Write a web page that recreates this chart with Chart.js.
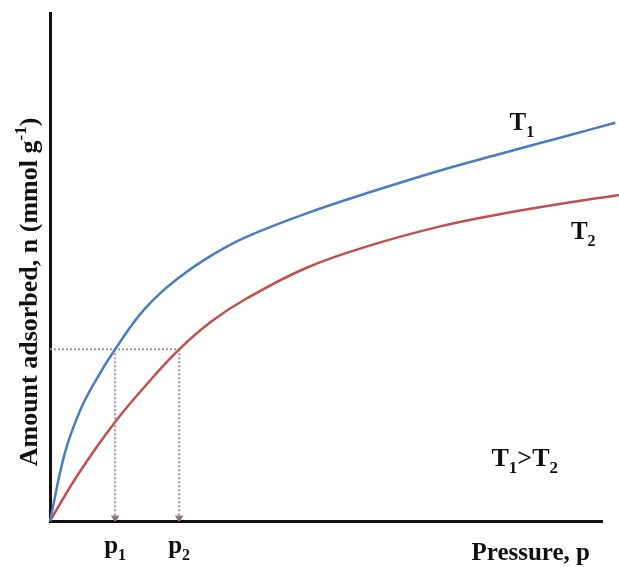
<!DOCTYPE html>
<html>
<head>
<meta charset="utf-8">
<script src="https://cdn.jsdelivr.net/npm/chart.js@4"></script>
<style>
  html, body { margin: 0; padding: 0; background: #fff; }
  #wrap { width: 619px; height: 567px; position: relative; }
</style>
</head>
<body>
<div id="wrap"><canvas id="c"></canvas></div>
<script>
// Pressure (arbitrary units) and amount adsorbed (arbitrary units)
const t1Pressure = [0, 0.27, 0.54, 0.82, 1.18, 1.72, 2.36, 2.99, 3.53, 4.66, 5.85, 7.07, 8.10, 9.29, 10.24];
const t1Amount   = [0, 1.34, 2.16, 2.75, 3.38, 4.18, 4.81, 5.27, 5.58, 6.06, 6.49, 6.90, 7.21, 7.56, 7.84];
const t2Pressure = [0, 0.51, 1.18, 1.85, 2.34, 2.93, 3.53, 4.66, 5.85, 7.07, 8.10, 9.29, 10.31];
const t2Amount   = [0, 0.92, 1.95, 2.81, 3.38, 3.93, 4.36, 4.99, 5.44, 5.80, 6.03, 6.25, 6.42];
const p1 = 1.18, p2 = 2.34, nLevel = 3.38;
const seriesLabels = ['T1', 'T2'];

const pts = (xs, ys) => xs.map((x, i) => ({x, y: ys[i]}));

const guide = (data, rad) => ({
  type: 'line', data, borderColor: '#a39191', borderWidth: 2, borderDash: [2, 2],
  pointRadius: rad, pointStyle: 'triangle', pointRotation: 180,
  pointBackgroundColor: '#8c7a7a', pointBorderColor: '#8c7a7a', tension: 0, order: 2
});

const FONT = '"Liberation Serif", "Times New Roman", serif';

function drawRich(ctx, parts, x, y, size, align) {
  const small = Math.round(size * 0.65);
  let total = 0;
  const widths = parts.map(p => {
    ctx.font = 'bold ' + (p.mode === 'n' ? size : small) + 'px ' + FONT;
    const w = ctx.measureText(p.t).width; total += w; return w;
  });
  let cx = align === 'center' ? x - total / 2 : (align === 'right' ? x - total : x);
  ctx.textAlign = 'left';
  ctx.textBaseline = 'alphabetic';
  parts.forEach((p, i) => {
    ctx.font = 'bold ' + (p.mode === 'n' ? size : small) + 'px ' + FONT;
    let dy = 0;
    if (p.mode === 'sub') dy = size * 0.28;
    if (p.mode === 'sup') dy = -size * 0.42;
    ctx.fillText(p.t, cx, y + dy);
    cx += widths[i];
  });
}

const textPlugin = {
  id: 'texts',
  afterDraw(chart) {
    const ctx = chart.ctx, xs = chart.scales.x, ys = chart.scales.y;
    ctx.save();
    ctx.fillStyle = '#111';
    drawRich(ctx, [{t: 'T', mode: 'n'}, {t: '1', mode: 'sub'}], xs.getPixelForValue(8.55), ys.getPixelForValue(7.7), 25, 'center');
    drawRich(ctx, [{t: 'T', mode: 'n'}, {t: '2', mode: 'sub'}], xs.getPixelForValue(9.66), ys.getPixelForValue(5.55), 25, 'center');
    drawRich(ctx, [{t: 'T', mode: 'n'}, {t: '1', mode: 'sub'}, {t: '>', mode: 'n'}, {t: 'T', mode: 'n'}, {t: '2', mode: 'sub'}],
      xs.getPixelForValue(8.6), ys.getPixelForValue(1.08), 26, 'center');
    const by = chart.chartArea.bottom + 32;
    drawRich(ctx, [{t: 'p', mode: 'n'}, {t: '1', mode: 'sub'}], xs.getPixelForValue(p1), by, 25, 'center');
    drawRich(ctx, [{t: 'p', mode: 'n'}, {t: '2', mode: 'sub'}], xs.getPixelForValue(p2), by, 25, 'center');
    drawRich(ctx, [{t: 'Pressure, p', mode: 'n'}], chart.chartArea.right - 12, chart.chartArea.bottom + 39, 25, 'right');
    ctx.translate(37, 292);
    ctx.rotate(-Math.PI / 2);
    drawRich(ctx, [{t: 'Amount adsorbed, n (mmol g', mode: 'n'}, {t: '-1', mode: 'sup'}, {t: ')', mode: 'n'}], 0, 0, 26, 'center');
    ctx.restore();
  }
};

new Chart(document.getElementById('c'), {
  type: 'line',
  data: {
    datasets: [
      { label: seriesLabels[0], data: pts(t1Pressure, t1Amount), borderColor: '#4a7cc0', borderWidth: 2.5,
        pointRadius: 0, tension: 0.4, clip: false, order: 1 },
      { label: seriesLabels[1], data: pts(t2Pressure, t2Amount), borderColor: '#c0504d', borderWidth: 2.5,
        pointRadius: 0, tension: 0.4, clip: false, order: 1 },
      guide([{x: 0, y: nLevel}, {x: p2, y: nLevel}], 0),
      guide([{x: p1, y: nLevel}, {x: p1, y: 0.06}], [0, 3]),
      guide([{x: p2, y: nLevel}, {x: p2, y: 0.06}], [0, 3])
    ]
  },
  options: {
    responsive: true, maintainAspectRatio: false, animation: false,
    layout: { padding: { top: 13, right: 17, left: 0, bottom: 0 } },
    plugins: { legend: { display: false }, tooltip: { enabled: false } },
    scales: {
      x: { type: 'linear', min: 0, max: 10,
           ticks: { display: false }, grid: { display: false, drawTicks: false },
           border: { display: true, color: '#111', width: 3 },
           afterFit: s => { s.height = 46; } },
      y: { type: 'linear', min: 0, max: 10,
           ticks: { display: false }, grid: { display: false, drawTicks: false },
           border: { display: true, color: '#111', width: 3 },
           afterFit: s => { s.width = 50; } }
    }
  },
  plugins: [textPlugin]
});
</script>
</body>
</html>
